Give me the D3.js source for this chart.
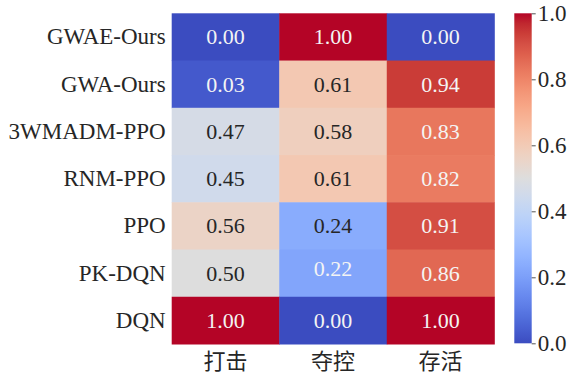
<!DOCTYPE html>
<html><head><meta charset="utf-8">
<script src="https://cdn.jsdelivr.net/npm/d3@7/dist/d3.min.js"></script>
<style>body{margin:0;background:#fff}svg{display:block}</style>
</head><body>
<svg id="c" width="571" height="376"></svg>
<script>
const methods = ["GWAE-Ours","GWA-Ours","3WMADM-PPO","RNM-PPO","PPO","PK-DQN","DQN"];
const metrics = ["打击","夺控","存活"];
const strike  = [0.00,0.03,0.47,0.45,0.56,0.50,1.00];
const capture = [1.00,0.61,0.58,0.61,0.24,0.22,0.00];
const survive = [0.00,0.94,0.83,0.82,0.91,0.86,1.00];
const cbTicks = [0.0,0.2,0.4,0.6,0.8,1.0];

const coolwarmStops = [[59,76,192],[68,90,204],[77,104,215],[87,117,225],[98,130,234],[108,142,241],[119,154,247],[130,165,251],[141,176,254],[152,185,255],[163,194,255],[174,201,253],[184,208,249],[194,213,244],[204,217,238],[213,219,230],[221,221,221],[229,216,209],[236,211,197],[241,204,184],[245,196,172],[247,187,159],[247,177,147],[247,166,134],[244,154,123],[241,141,111],[236,127,99],[229,112,89],[222,96,77],[213,80,69],[203,62,56],[192,40,47],[180,4,38]];
function coolwarm(t){
  t=Math.max(0,Math.min(1,t));
  const n=coolwarmStops.length-1, x=t*n, i=Math.min(n-1,Math.floor(x)), f=x-i;
  const a=coolwarmStops[i], b=coolwarmStops[i+1];
  return [0,1,2].map(k=>a[k]+(b[k]-a[k])*f);
}
const rgbStr = c=>`rgb(${c.map(v=>Math.round(v)).join(",")})`;
function lum(c){
  const l=c.map(v=>{v/=255;return v<=0.03928?v/12.92:Math.pow((v+0.055)/1.055,2.4);});
  return 0.2126*l[0]+0.7152*l[1]+0.0722*l[2];
}

const cols = [strike,capture,survive];
const cells=[];
methods.forEach((m,r)=>metrics.forEach((k,c)=>cells.push({m,k,v:cols[c][r]})));

const svg=d3.select("#c");
const L=171.7,R=494.3,T=13.3,B=344;
const x=d3.scaleBand().domain(metrics).range([L,R]);
const y=d3.scaleBand().domain(methods).range([T,B]);
const color=d3.scaleLinear().domain([0,1]).range([0,1]);
const serif="'Liberation Serif','Times New Roman',serif";

svg.append("g").selectAll("rect").data(cells).join("rect")
  .attr("x",d=>x(d.k)).attr("y",d=>y(d.m))
  .attr("width",x.bandwidth()+0.5).attr("height",y.bandwidth()+0.5)
  .attr("fill",d=>rgbStr(coolwarm(color(d.v))));

svg.append("g").selectAll("text").data(cells).join("text")
  .attr("x",d=>x(d.k)+x.bandwidth()/2)
  .attr("y",d=>y(d.m)+y.bandwidth()/2 - (d.m==="PK-DQN"&&d.k==="夺控"?5:0))
  .attr("text-anchor","middle").attr("dominant-baseline","central")
  .attr("font-family",serif).attr("font-size",22)
  .attr("fill",d=>lum(coolwarm(color(d.v)))>0.408?"#262626":"#f4f4f4")
  .text(d=>d.v.toFixed(2));

const yAxis=svg.append("g").attr("transform",`translate(${L},0)`)
  .call(d3.axisLeft(y).tickSize(0).tickPadding(6));
yAxis.select(".domain").remove();
yAxis.selectAll("text").attr("font-family",serif).attr("font-size",23).attr("fill","#262626");

const xAxis=svg.append("g").attr("transform",`translate(0,${B})`)
  .call(d3.axisBottom(x).tickSize(0).tickPadding(9));
xAxis.select(".domain").remove();
xAxis.selectAll("text").attr("font-family","'Noto Sans CJK SC',sans-serif").attr("font-size",22).attr("fill","#262626");

// colorbar
const cbL=514.3, cbW=17.4;
const cy=d3.scaleLinear().domain([0,1]).range([B-0.7,T]);
const defs=svg.append("defs");
const grad=defs.append("linearGradient").attr("id","cw").attr("x1",0).attr("y1",1).attr("x2",0).attr("y2",0);
d3.range(0,1.0001,1/64).forEach(t=>grad.append("stop").attr("offset",t).attr("stop-color",rgbStr(coolwarm(t))));
svg.append("rect").attr("x",cbL).attr("y",cy(1)).attr("width",cbW).attr("height",cy(0)-cy(1)).attr("fill","url(#cw)");
const cAxis=svg.append("g").attr("transform",`translate(${cbL+cbW},0)`)
  .call(d3.axisRight(cy).tickValues(cbTicks).tickFormat(d3.format(".1f")).tickSize(4).tickPadding(2));
cAxis.select(".domain").remove();
cAxis.selectAll("line").attr("stroke","#262626").attr("stroke-width",0.8);
cAxis.selectAll("text").attr("font-family",serif).attr("font-size",23).attr("fill","#262626");
</script>
</body></html>
